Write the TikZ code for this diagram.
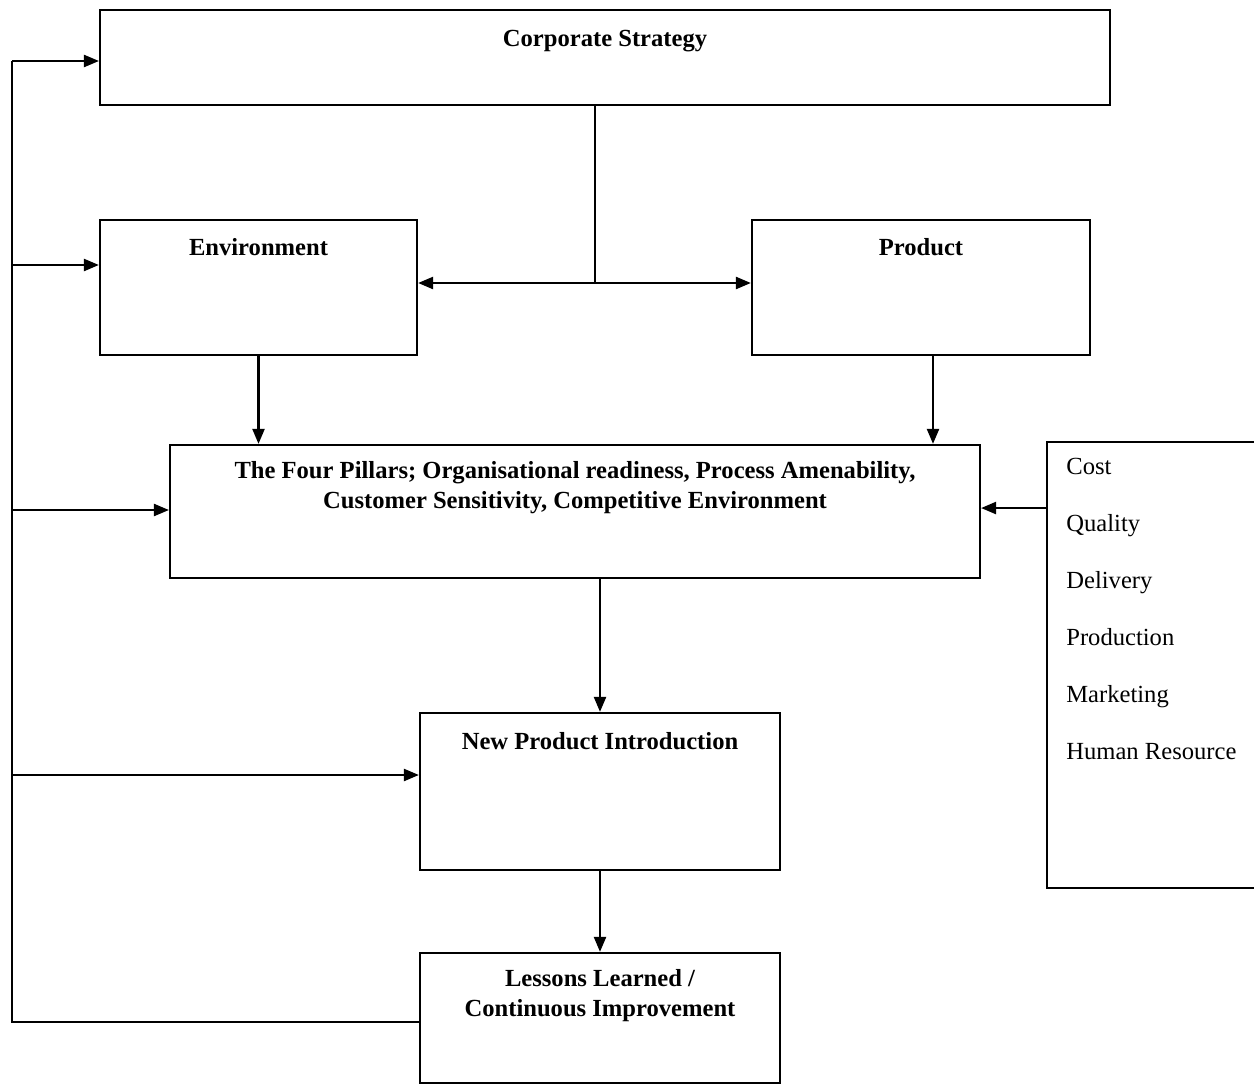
\documentclass[tikz,border=0pt]{standalone}
\usepackage{fontspec}
\setmainfont{Liberation Serif}
\usetikzlibrary{arrows.meta,positioning}

\begin{document}
\begin{tikzpicture}[x=0.02cm,y=-0.02cm,
    box/.style={draw,line width=1.3pt,inner sep=0pt},
    title/.style={font=\fontsize{14}{17}\selectfont\bfseries,align=center,inner sep=0pt},
    item/.style={font=\fontsize{14}{16}\selectfont,anchor=base west,inner sep=0pt},
    link/.style={line width=1.3pt},
    arr/.style={link,-{Triangle[length=0.3cm,width=0.24cm]}}]

\useasboundingbox (0,0) rectangle (1254,1085);

% Boxes
\node[box,minimum width=20.2cm,minimum height=1.9cm] (strategy) at (605,57.5) {};
\node[box,minimum width=6.34cm,minimum height=2.7cm] (environment) at (258.5,287.5) {};
\node[box,minimum width=6.76cm,minimum height=2.7cm] (product) at (921,287.5) {};
\node[box,minimum width=16.2cm,minimum height=2.66cm] (pillars) at (575,511.5) {};
\node[box,minimum width=4.86cm,minimum height=8.92cm] (factors) at (1168.5,665) {};
\node[box,minimum width=7.2cm,minimum height=3.14cm] (npi) at (600,791.5) {};
\node[box,minimum width=7.2cm,minimum height=2.6cm] (lessons) at (600,1018) {};

% Titles
\node[title] (strategy-t) at (605,41) {Corporate Strategy};
\node[title] (environment-t) at (258.5,247) {Environment};
\node[title] (product-t) at (921,247) {Product};
\node[title] (pillars-t) at (575,488) {The Four Pillars; Organisational readiness, Process Amenability,\\Customer Sensitivity, Competitive Environment};
\node[title] (npi-t) at (600,741) {New Product Introduction};
\node[title] (lessons-t) at (600,996) {Lessons Learned /\\Continuous Improvement};

% Factor list
\node[item] (cost) at (1066,474) {Cost};
\node[item] (quality) at (1066,531) {Quality};
\node[item] (delivery) at (1066,588) {Delivery};
\node[item] (production) at (1066,645) {Production};
\node[item] (marketing) at (1066,702) {Marketing};
\node[item] (hr) at (1066,759) {Human Resource};

% Strategy feeds environment and product
\coordinate (split) at (595,283);
\draw[link] (strategy.south -| split) -- (split);
\draw[arr] (split) -- (split -| environment.east);
\draw[arr] (split) -- (split -| product.west);

% Down the middle
\draw[arr] (environment.south) -- (environment.south |- pillars.north);
\draw[arr] ([xshift=0.24cm]product.south) -- ([xshift=0.24cm]product.south |- pillars.north);
\draw[arr] ([yshift=3.14cm]factors.west) -- ([yshift=3.14cm]factors.west -| pillars.east);
\draw[arr] (pillars.south -| npi.north) -- (npi.north);
\draw[arr] (npi.south) -- (lessons.north);

% Feedback rail
\coordinate (rail-top) at (12,61);
\coordinate (fb-env) at (12,265);
\coordinate (fb-pillars) at (12,510);
\coordinate (fb-npi) at (12,775);
\draw[link] ([yshift=-0.08cm]lessons.west) -| (rail-top);
\draw[arr] (rail-top) -- (rail-top -| strategy.west);
\draw[arr] (fb-env) -- (fb-env -| environment.west);
\draw[arr] (fb-pillars) -- (fb-pillars -| pillars.west);
\draw[arr] (fb-npi) -- (fb-npi -| npi.west);

\end{tikzpicture}
\end{document}
